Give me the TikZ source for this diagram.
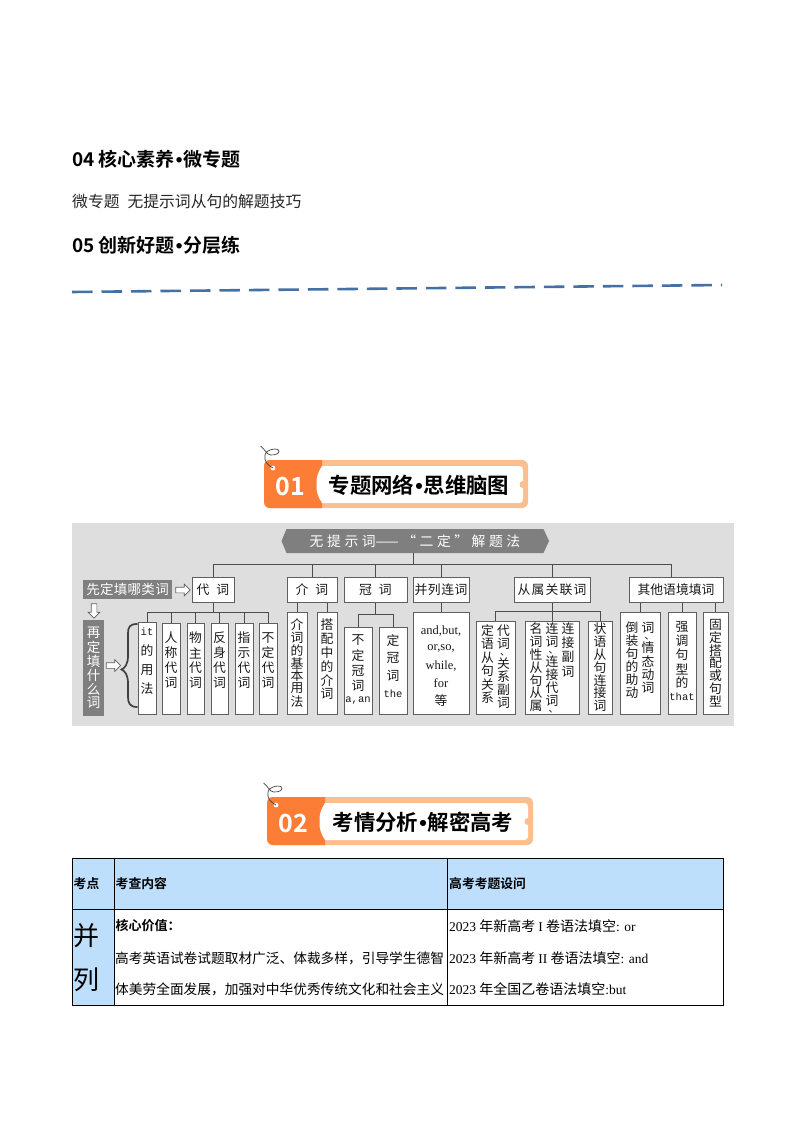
\documentclass[tikz,border=0pt]{standalone}
\usepackage{fontspec}
\usetikzlibrary{shapes.arrows}
\setmainfont{Noto Sans CJK SC}[BoldFont={Noto Sans CJK SC Bold}]
\newfontfamily\latm{Liberation Mono}
\newfontfamily\lats{Liberation Serif}
\newfontfamily\lata{Liberation Sans}[BoldFont={Liberation Sans Bold}]
\definecolor{bggray}{HTML}{DEDEDE}
\definecolor{midgray}{HTML}{7F7F7F}
\definecolor{edgegray}{HTML}{5F5F5F}
\definecolor{txt}{HTML}{1A1A1A}
\definecolor{lightor}{HTML}{FBBE8F}
\definecolor{darkor}{HTML}{FB7D36}
\definecolor{cellblue}{HTML}{BDDFFB}
\definecolor{dashblue}{HTML}{4470A3}
\newcommand\fs[1]{\fontsize{#1}{#1}\selectfont}
\ExplSyntaxOn
\NewDocumentCommand\VT{O{0}mm}{\vtop{\offinterlineskip
  \tl_map_inline:nn{#3}{\tl_if_eq:nnTF{##1}{、}
    {\hbox to 14pt{\vbox to 7pt{\vss\hbox{\kern 3.5pt \fs{10} ##1}\kern 1pt}\hss}}
    {\hbox to 14pt{\hss\vbox to #2 pt{\vss\hbox{##1}\vss}\hss}}}
  \kern #1 pt}}
\NewDocumentCommand\HS{mm}{\tl_map_inline:nn{#2}{##1\kern #1 pt}\unskip\kern -#1 pt}
\ExplSyntaxOff
\newcommand\cdotx{\kern 1pt{\lata\bfseries •}\kern 1pt}
\tikzset{
  boxst/.style={draw=edgegray,line width=1pt,fill=white,inner sep=0pt,text=txt,font=\fs{12.8}},
  conn/.style={draw=black!70,line width=.8pt},
  grayst/.style={fill=midgray,text=white,inner sep=0pt,font=\fs{13.5}},
  hollow/.style={single arrow,draw=edgegray,fill=white,line width=.7pt,inner sep=0pt,
    single arrow head extend=3pt,single arrow tip angle=90,minimum height=14.5pt,minimum width=11pt},
  headst/.style={anchor=west,inner sep=0pt,font=\fs{19}\bfseries,text=black},
  celltxt/.style={anchor=west,inner sep=0pt,font=\fs{13.7},text=black},
  thread/.style={draw=black!75,line width=.7pt},
}
\newcommand\bx[6]{\pgfmathsetmacro\bxw{#4-#2}\pgfmathsetmacro\bxh{#5-#3}%
  \node[boxst,minimum width=\bxw pt,minimum height=\bxh pt] (#1) at ({(#2+#4)/2},{(#3+#5)/2}) {#6};}
% banner: name, x, y, width, number, title, title centre x
\newcommand\banner[7]{\begin{scope}[shift={(#2,#3)}]
  \fill[lightor,rounded corners=6pt] (0,0) rectangle (#4,48);
  \begin{scope}\clip (0,0) rectangle (58,48);
    \fill[darkor,rounded corners=6pt] (0,0) rectangle (70,48);\end{scope}
  \fill[white,rounded corners=0pt] (58,6) .. controls (54,12) and (52,18) .. (52.5,24.5)
     .. controls (52,31) and (54,37) .. (58,43) -- (#4-9,43)
     .. controls (#4-6,43) and (#4-5,42) .. (#4-5,39) -- (#4-5,10)
     .. controls (#4-5,7) and (#4-6,6) .. (#4-9,6) -- cycle;
  \fill[lightor] (#4-5,24.5) circle (3.5);
  \fill[white] (9,8) circle (2.4);
  \draw[thread] (9,8) .. controls (3,5) and (0,1) .. (1,-5)
     .. controls (2,-11) and (15,-13) .. (15,-8.5) .. controls (15,-5) and (6,-4) .. (4,-6)
     .. controls (2,-8) and (0,-11) .. (-3.5,-14);
  \node[inner sep=0pt,text=white,font=\fs{25}\bfseries] (#1n) at (26.5,26) {#5};
  \node[inner sep=0pt,text=black,font=\fs{21.4}\bfseries] (#1t) at (#7,25) {#6};
\end{scope}}
\begin{document}
\begin{tikzpicture}[x=1pt,y=-1pt]
\useasboundingbox (0,0) rectangle (794,1123);
\fill[white] (0,0) rectangle (794,1123);
% headings
\node[headst] (h04) at (72,159) {04 核心素养\cdotx 微专题};
\node[anchor=west,inner sep=0pt,font=\fs{15.8},text=black!85] (sub) at (72,202) {微专题\kern 8pt 无提示词从句的解题技巧};
\node[headst] (h05) at (72,245) {05 创新好题\cdotx 分层练};
\coordinate (dashA) at (72,292);
\coordinate (dashB) at (722,285);
\draw[dashblue,line width=2.6pt,dash pattern=on 20.5pt off 9pt] (dashA) -- (dashB);
% banner 1
\banner{ba}{264}{460}{264}{01}{专题网络\cdotx 思维脑图}{155}
% map
\fill[bggray] (72,523) rectangle (734,726);
\fill[midgray] (281.5,541) -- (286.5,529) -- (543.5,529) -- (549,541) -- (543.5,553) -- (286.5,553) -- cycle;
\node[inner sep=0pt,text=white,font=\fs{13.8},minimum width=214pt,minimum height=24pt] (ttl) at (415,541) {\HS{3.6}{无提示词}——\kern 3.5pt“\kern 3.5pt\HS{3.6}{二定}\kern 3.5pt”\kern 3.5pt\HS{3.6}{解题法}};
% level 1
\bx{dc}{192}{577}{234}{602}{\HS{7}{代词}}
\bx{jc}{287}{577}{337}{602}{\HS{7}{介词}}
\bx{gc}{344}{577}{407}{602}{\HS{7}{冠词}}
\bx{bl}{413}{577}{469}{602}{\HS{.5}{并列连词}}
\bx{cs}{514}{577}{590}{602}{\HS{1.2}{从属关联词}}
\bx{qt}{629}{577}{723}{602}{其他语境填词}
% level 2
\bx{a1}{138}{623}{156}{714}{\VT[16]{19}{{\latm\fs{10.5}it}的用法}}
\bx{a2}{162}{623}{180}{714}{\VT[16]{15}{人称代词}}
\bx{a3}{187}{623}{204}{714}{\VT[16]{15}{物主代词}}
\bx{a4}{211}{623}{228}{714}{\VT[16]{15}{反身代词}}
\bx{a5}{235}{623}{253}{714}{\VT[16]{15}{指示代词}}
\bx{a6}{259}{623}{277}{714}{\VT[16]{15}{不定代词}}
\bx{b1}{287}{612}{307}{714}{\VT{12.8}{介词的基本用法}}
\bx{b2}{317}{612}{337}{714}{\VT[7]{13.8}{搭配中的介词}}
\bx{c1}{344}{627}{372}{714}{\VT{15}{不定冠词{\latm\fs{10.5}a,an}}}
\bx{c2}{379}{627}{407}{714}{\VT[7]{17.5}{定冠词{\latm\fs{10.5}the}}}
\bx{d1}{413}{612}{469}{714}{\VT[-6]{17.2}{{\lats\fs{12.5}and,but,}{\lats\fs{12.5}or,so,}{\lats\fs{12.5}while,}{\lats\fs{12.5}for}等}}
\bx{e1}{476}{621}{515}{714}{\hbox{\VT{13.4}{定语从句关系}\kern 2pt\VT[2]{12.9}{代词、关系副词}}}
\bx{e2}{525}{621}{579}{714}{\hbox{\VT{12.8}{名词性从句从属}\kern 2pt\VT{12.9}{连词、连接代词、}\kern 2pt\VT{14.5}{连接副词}}}
\bx{e3}{588}{621}{612}{714}{\VT{12.8}{状语从句连接词}}
\bx{f1}{620}{612}{660}{714}{\hbox{\VT[6]{13}{倒装句的助动}\kern 2pt\VT{13.4}{词、情态动词}}}
\bx{f2}{668}{612}{696}{714}{\VT[2]{14}{强调句型的{\latm\fs{10.5}that}}}
\bx{f3}{703}{612}{728}{714}{\VT{12.8}{固定搭配或句型}}
% connectors: top tree
\coordinate (topbar) at (413,564.3);
\draw[conn] (topbar |- ttl.south) -- (topbar);
\draw[conn] (dc.north) -- (dc.north |- topbar);
\draw[conn] (dc.north |- topbar) -- ([xshift=-5pt]qt.north |- topbar) -- ([xshift=-5pt]qt.north);
\draw[conn] (jc.north) -- (jc.north |- topbar);
\draw[conn] (gc.north) -- (gc.north |- topbar);
\draw[conn] (bl.north) -- (bl.north |- topbar);
\draw[conn] (cs.north) -- (cs.north |- topbar);
% pronoun subtree
\coordinate (dcbar) at (213,612);
\draw[conn] (dc.south) -- (dcbar);
\foreach \n in {a1,a2,a3,a4,a5,a6}{\draw[conn] (\n.north) -- (\n.north |- dcbar);}
\draw[conn] (a1.north |- dcbar) -- (a6.north |- dcbar);
% preposition
\draw[conn] (b1.north) -- (b1.north |- jc.south);
\draw[conn] (b2.north) -- (b2.north |- jc.south);
% article
\coordinate (gcbar) at (375.5,614);
\draw[conn] (gc.south) -- (gcbar);
\draw[conn] (c1.north) |- (gcbar);
\draw[conn] (c2.north) |- (gcbar);
% coordinating
\draw[conn] (bl.south) -- (d1.north);
% subordinate
\coordinate (csbar) at (552,611);
\draw[conn] (cs.south) -- (e2.north);
\draw[conn] (e1.north) |- (csbar);
\draw[conn] (e3.north) |- (csbar);
% others
\draw[conn] (f1.north) -- (f1.north |- qt.south);
\draw[conn] (f2.north) -- (f2.north |- qt.south);
\draw[conn] (f3.north) -- (f3.north |- qt.south);
% left labels
\node[grayst,minimum width=89pt,minimum height=19pt] (g1) at (127.5,589.5) {\HS{.3}{先定填哪类词}};
\node[grayst,minimum width=21pt,minimum height=96pt] (g2) at (93.5,668) {\VT{14}{再定填什么词}};
\node[hollow] (ar1) at (181.5,590) {\rule{0pt}{5pt}};
\node[hollow,rotate=-90] (ar2) at (94,609.5) {\rule{0pt}{5pt}};
\node[hollow] (ar3) at (112,665.5) {\rule{0pt}{5pt}};
% brace
\draw[draw=black!75,line width=1.7pt,line cap=round] (137,624) .. controls (130,624) and (128,627) .. (128,633)
  -- (128,656) .. controls (128,664) and (125,668) .. (121.5,669.5)
  .. controls (125,671) and (128,675) .. (128,683)
  -- (128,697) .. controls (128,703) and (130,707) .. (137,707);
% banner 2
\banner{bb}{267}{797}{266}{02}{考情分析\cdotx 解密高考}{156}
% table
\fill[cellblue] (72,858) rectangle (723,909);
\fill[cellblue] (72,909) rectangle (114,1005);
\draw[black,line width=.8pt] (72,858) rectangle (723,1005);
\draw[black,line width=.8pt] (72,909) -- (723,909);
\draw[black,line width=.8pt] (114,858) -- (114,1005);
\draw[black,line width=.8pt] (447.5,858) -- (447.5,1005);
\node[celltxt,font=\fs{12.8}\bfseries] (t1) at (73.5,884) {考点};
\node[celltxt,font=\fs{12.8}\bfseries] (t2) at (115.5,884) {考查内容};
\node[celltxt,font=\fs{12.8}\bfseries] (t3) at (449,884) {高考考题设问};
\node[inner sep=0pt,font=\fs{26},text=black] (t4) at (86,936) {并};
\node[inner sep=0pt,font=\fs{26},text=black] (t5) at (86,980) {列};
\node[celltxt,font=\fs{13}\bfseries] (t6) at (115.5,926) {核心价值：};
\node[celltxt] (t7) at (115,958) {高考英语试卷试题取材广泛、体裁多样，引导学生德智};
\node[celltxt] (t8) at (115,989) {体美劳全面发展，加强对中华优秀传统文化和社会主义};
\node[celltxt,font=\fs{14}] (t9) at (449,926) {{\lats\fs{13.5}2023} 年新高考 {\lats\fs{13.5}I} 卷语法填空{\lats\fs{13.5}: or}};
\node[celltxt,font=\fs{14}] (t10) at (449,958) {{\lats\fs{13.5}2023} 年新高考 {\lats\fs{13.5}II} 卷语法填空{\lats\fs{13.5}: and}};
\node[celltxt,font=\fs{14}] (t11) at (449,989) {{\lats\fs{13.5}2023} 年全国乙卷语法填空{\lats\fs{13.5}:but}};
\end{tikzpicture}
\end{document}
